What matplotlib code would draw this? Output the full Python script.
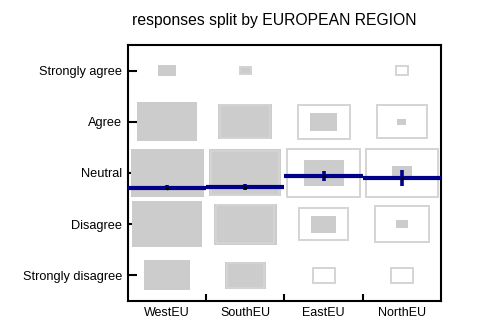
import numpy as np
import matplotlib
matplotlib.use("Agg")
import matplotlib.pyplot as plt
from matplotlib.patches import Rectangle

plt.rcParams['font.family'] = ['Liberation Sans', 'DejaVu Sans']

regions = ['WestEU', 'SouthEU', 'EastEU', 'NorthEU']
answers = ['Strongly disagree', 'Disagree', 'Neutral', 'Agree', 'Strongly agree']

# box areas in % of a cell, rows ordered Strongly disagree -> Strongly agree
filled = {
    'WestEU':  [34.6, 80.1, 87.0, 58.8, 5.3],
    'SouthEU': [28.4, 64.0, 84.6, 47.6, 2.5],
    'EastEU':  [0.0, 10.8, 26.1, 11.9, 0.0],
    'NorthEU': [0.0, 2.1, 6.4, 1.4, 0.0],
}
# outline boxes (West coincides with its filled boxes, so none drawn)
outline = {
    'WestEU':  [0.0, 0.0, 0.0, 0.0, 0.0],
    'SouthEU': [23.0, 54.8, 75.7, 41.0, 2.1],
    'EastEU':  [7.9, 38.7, 86.3, 44.2, 0.0],
    'NorthEU': [8.1, 47.6, 85.4, 40.8, 2.6],
}
# mean score (1 = Strongly disagree ... 5 = Strongly agree) and its half interval
means = [2.71, 2.72, 2.94, 2.90]
ci = [0.05, 0.06, 0.09, 0.15]

fill_col = '#cccccc'
edge_col = '#d4d4d4'
line_col = '#00008b'

fig = plt.figure(figsize=(4.98, 3.25), dpi=100)
ax = fig.add_axes([0.257, 0.074, 0.6285, 0.7877])

for i, reg in enumerate(regions):
    for j in range(len(answers)):
        s = np.sqrt(filled[reg][j] / 100)
        if s > 0:
            ax.add_patch(Rectangle((i + 0.5 - s / 2, j + 1 - s / 2), s, s,
                                   facecolor=fill_col, edgecolor='none', zorder=3))
        o = np.sqrt(outline[reg][j] / 100)
        if o > 0:
            ax.add_patch(Rectangle((i + 0.5 - o / 2, j + 1 - o / 2), o, o,
                                   facecolor='none', edgecolor=edge_col, lw=1.4, zorder=3.5))
    # mean line across the column + interval
    ax.plot([i, i + 1], [means[i], means[i]], color=line_col, lw=3, zorder=4,
            solid_capstyle='butt')
    ax.plot([i + 0.5, i + 0.5], [means[i] - ci[i], means[i] + ci[i]], color=line_col,
            lw=2.6, zorder=4.5, solid_capstyle='butt')
    ax.plot(i + 0.5, means[i], 'o', color='black', ms=1.5, zorder=5)

ax.set_xlim(0, 4)
ax.set_ylim(0.5, 5.5)
ax.set_xticks(np.arange(len(regions)) + 0.5)
ax.set_xticklabels(regions)
ax.set_xticks([1, 2, 3], minor=True)
ax.set_yticks(range(1, 6))
ax.set_yticklabels(answers)

ax.tick_params(axis='x', which='major', length=0, pad=4, labelsize=9)
ax.tick_params(axis='x', which='minor', direction='in', length=5, width=1.5)
ax.tick_params(axis='y', direction='in', length=6.5, width=1.5, pad=4, labelsize=9.2)
for sp in ax.spines.values():
    sp.set_linewidth(1.5)

fig.text(274 / 498, 1 - 20 / 325, 'responses split by EUROPEAN REGION',
         ha='center', va='center', fontsize=11.3)

fig.savefig('out.png', dpi=100)
